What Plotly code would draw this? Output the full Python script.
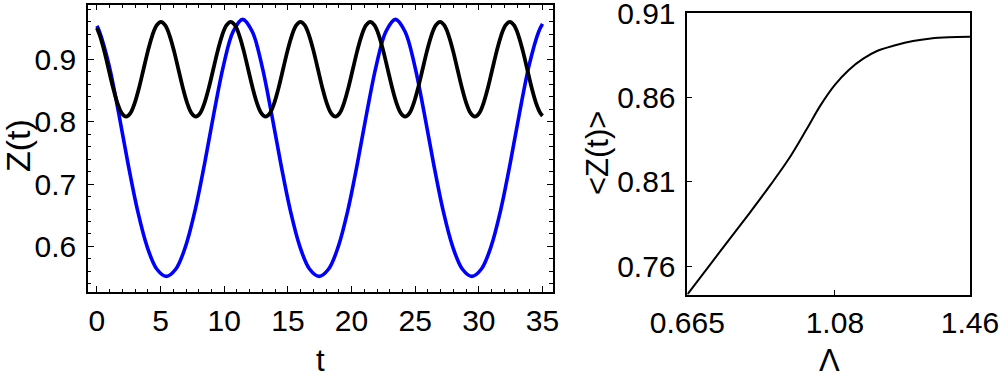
import plotly.graph_objects as go

# ---- Left panel data: Z(t) ----
t_blue = [0, 0.2, 0.95, 1.7, 2.45, 3.2, 3.95, 4.7, 5.45, 6.2, 6.95, 7.7, 8.45, 9.2, 9.95, 10.7,
          11.45, 12.2, 12.95, 13.7, 14.45, 15.2, 15.95, 16.7, 17.45, 18.2, 18.95, 19.7, 20.45,
          21.2, 21.95, 22.7, 23.45, 24.2, 24.95, 25.7, 26.45, 27.2, 27.95, 28.7, 29.45, 30.2,
          30.95, 31.7, 32.45, 33.2, 33.95, 34.7, 35]
z_blue = [0.9534,
          0.9445, 0.8907, 0.8147, 0.732, 0.657, 0.5993, 0.5639, 0.552,
          0.5639, 0.5993, 0.657, 0.732, 0.8147, 0.8907, 0.9445, 0.964,
          0.9445, 0.8907, 0.8147, 0.732, 0.657, 0.5993, 0.5639, 0.552,
          0.5639, 0.5993, 0.657, 0.732, 0.8147, 0.8907, 0.9445, 0.964,
          0.9445, 0.8907, 0.8147, 0.732, 0.657, 0.5993, 0.5639, 0.552,
          0.5639, 0.5993, 0.657, 0.732, 0.8147, 0.8907, 0.9445,
          0.9569]

t_black = [0, 0.235, 0.578, 0.92, 1.263, 1.605, 1.948, 2.29, 2.633, 2.975, 3.318, 3.66, 4.003,
           4.345, 4.688, 5.03, 5.373, 5.715, 6.058, 6.4, 6.743, 7.085, 7.428, 7.77, 8.113,
           8.455, 8.798, 9.14, 9.483, 9.825, 10.168, 10.51, 10.853, 11.195, 11.538, 11.88,
           12.223, 12.565, 12.908, 13.25, 13.593, 13.935, 14.278, 14.62, 14.963, 15.305,
           15.648, 15.99, 16.333, 16.675, 17.018, 17.36, 17.703, 18.045, 18.388, 18.73,
           19.073, 19.415, 19.758, 20.1, 20.443, 20.785, 21.128, 21.47, 21.813, 22.155,
           22.498, 22.84, 23.183, 23.525, 23.868, 24.21, 24.553, 24.895, 25.238, 25.58,
           25.923, 26.265, 26.608, 26.95, 27.293, 27.635, 27.978, 28.32, 28.663, 29.005,
           29.348, 29.69, 30.033, 30.375, 30.718, 31.06, 31.403, 31.745, 32.088, 32.43,
           32.773, 33.115, 33.458, 33.8, 34.143, 34.485, 34.828, 35]
z_black = [0.9501,
           0.9377, 0.9131, 0.884, 0.8549, 0.8303, 0.8138, 0.808, 0.8138, 0.8303, 0.8549,
           0.884, 0.9131, 0.9377, 0.9542, 0.960,
           0.9542, 0.9377, 0.9131, 0.884, 0.8549, 0.8303, 0.8138, 0.808,
           0.8138, 0.8303, 0.8549, 0.884, 0.9131, 0.9377, 0.9542, 0.960,
           0.9542, 0.9377, 0.9131, 0.884, 0.8549, 0.8303, 0.8138, 0.808,
           0.8138, 0.8303, 0.8549, 0.884, 0.9131, 0.9377, 0.9542, 0.960,
           0.9542, 0.9377, 0.9131, 0.884, 0.8549, 0.8303, 0.8138, 0.808,
           0.8138, 0.8303, 0.8549, 0.884, 0.9131, 0.9377, 0.9542, 0.960,
           0.9542, 0.9377, 0.9131, 0.884, 0.8549, 0.8303, 0.8138, 0.808,
           0.8138, 0.8303, 0.8549, 0.884, 0.9131, 0.9377, 0.9542, 0.960,
           0.9542, 0.9377, 0.9131, 0.884, 0.8549, 0.8303, 0.8138, 0.808,
           0.8138, 0.8303, 0.8549, 0.884, 0.9131, 0.9377, 0.9542, 0.960,
           0.9542, 0.9377, 0.9131, 0.884, 0.8549, 0.8303, 0.8138,
           0.8094]

# ---- Right panel data: <Z(t)> vs Lambda ----
lam = [0.665, 0.72, 0.78, 0.84, 0.90, 0.95, 1.00, 1.04, 1.08, 1.12, 1.16, 1.20, 1.25,
       1.30, 1.35, 1.40, 1.46]
zavg = [0.7432, 0.7584, 0.7750, 0.7915, 0.8085, 0.8235, 0.8410, 0.8555, 0.8675, 0.8765,
        0.8830, 0.8877, 0.8910, 0.8935, 0.8950, 0.8957, 0.8960]

x_left_ticks = [0, 5, 10, 15, 20, 25, 30, 35]
y_left_ticks = [0.6, 0.7, 0.8, 0.9]
x_right_ticks = [0.665, 1.08, 1.46]
x_right_text = ["0.665", "1.08", "1.46"]
y_right_ticks = [0.76, 0.81, 0.86, 0.91]
y_right_text = ["0.76", "0.81", "0.86", "0.91"]

W, H = 1000, 373
FONT = "Liberation Sans, Arial, sans-serif"

fig = go.Figure()
fig.add_trace(go.Scatter(x=t_blue, y=z_blue, mode="lines",
                         line=dict(color="rgb(0,0,255)", width=3.6, shape="spline"),
                         xaxis="x", yaxis="y", showlegend=False))
fig.add_trace(go.Scatter(x=t_black, y=z_black, mode="lines",
                         line=dict(color="black", width=3.8, shape="spline"),
                         xaxis="x", yaxis="y", showlegend=False))
fig.add_trace(go.Scatter(x=lam, y=zavg, mode="lines",
                         line=dict(color="black", width=2, shape="spline"),
                         xaxis="x2", yaxis="y2", showlegend=False))


def px_x(p):
    return p / W


def px_y(p):
    return 1 - p / H


common = dict(showgrid=False, zeroline=False, showline=True, linecolor="black", linewidth=1.5,
              ticks="inside", tickcolor="black", tickwidth=1.2, automargin=False,
              ticklabeloverflow="allow",
              tickfont=dict(family=FONT, size=30, color="black"))

fig.update_layout(
    width=W, height=H, margin=dict(l=0, r=0, t=0, b=0, autoexpand=False),
    paper_bgcolor="white", plot_bgcolor="white",
    xaxis=dict(domain=[px_x(88), px_x(552.7)], range=[-0.7, 35.8], anchor="y",
               tickvals=x_left_ticks, ticklen=6, mirror="ticks", ticklabelstandoff=1,
               minor=dict(dtick=1, ticks="inside", ticklen=3.5, tickcolor="black", tickwidth=1),
               **common),
    yaxis=dict(domain=[px_y(292), px_y(4.7)], range=[0.527, 0.9875], anchor="x",
               tickvals=y_left_ticks, ticklen=6, mirror="ticks", ticklabelstandoff=4,
               minor=dict(dtick=0.02, tick0=0.6, ticks="inside", ticklen=3.5, tickcolor="black",
                          tickwidth=1),
               **common),
    xaxis2=dict(domain=[px_x(687.3), px_x(970)], range=[0.6649, 1.4601], anchor="y2",
                tickvals=x_right_ticks, ticktext=x_right_text, ticklen=5, mirror=True,
                ticklabelstandoff=1, **common),
    yaxis2=dict(domain=[px_y(294.5), px_y(13)], range=[0.7432, 0.9101], anchor="x2",
                tickvals=y_right_ticks, ticktext=y_right_text, ticklen=5, mirror=True,
                ticklabelstandoff=4, **common),
)

fig.add_annotation(text="t", x=px_x(320), y=-7 / H, xref="paper", yref="paper",
                   showarrow=False, font=dict(family=FONT, size=31, color="black"),
                   xanchor="center", yanchor="bottom")
fig.add_annotation(text="Z(t)", x=px_x(18), y=px_y(146), xref="paper", yref="paper",
                   showarrow=False, font=dict(family=FONT, size=34, color="black"), textangle=-90,
                   xanchor="center", yanchor="middle")
fig.add_annotation(text="Λ", x=px_x(829), y=-7 / H, xref="paper", yref="paper",
                   showarrow=False, font=dict(family=FONT, size=31, color="black"),
                   xanchor="center", yanchor="bottom")
fig.add_annotation(text="&lt;Z(t)&gt;", x=px_x(597), y=px_y(153), xref="paper", yref="paper",
                   showarrow=False, font=dict(family=FONT, size=31, color="black"), textangle=-90,
                   xanchor="center", yanchor="middle")

fig.write_html("out.html", config={"displayModeBar": False},
               post_script="document.body.style.margin='0px';")
